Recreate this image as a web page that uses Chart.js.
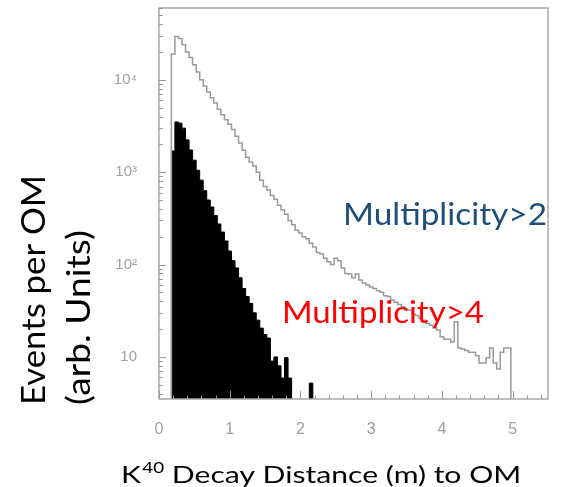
<!DOCTYPE html>
<html>
<head>
<meta charset="utf-8">
<script src="https://cdn.jsdelivr.net/npm/chart.js@4.4.1/dist/chart.umd.min.js"></script>
<style>
  html, body { margin: 0; padding: 0; background: #fff; }
  #wrap { width: 587px; height: 487px; position: relative; }
</style>
</head>
<body>
<div id="wrap"><canvas id="decayChart"></canvas></div>
<script>
// histogram binning (m)
const firstEdge = 0.175;
const binWidth = 0.05;

// events per OM, multiplicity > 2 (outline)
const mult2Counts = [
  2600, 19000, 29500, 28000, 24000, 20000, 17500, 14600, 12200, 10000,
  8600, 7400, 6400, 5600, 4800, 4200, 3700, 3300, 2900, 2450,
  2070, 1730, 1450, 1290, 1170, 1000, 820, 700, 640, 560,
  510, 440, 390, 350, 300, 270, 235, 220, 200, 190,
  170, 155, 135, 130, 117, 107, 100, 117, 110, 92,
  80, 79, 72, 79, 68, 63, 60, 57, 55, 52,
  50, 46, 45, 41, 39, 37, 35, 32, 32, 29,
  28, 26, 25, 23, 22, 20.5, 19.5, 16.5, 15.5, 15.5,
  14.5, 24, 12.5, 12.2, 11.7, 11.2, 11.2, 10.3, 8.6, 8.6,
  9.8, 12.5, 8.6, 7.4, 11.2, 12.5, 12.5
];

// events per OM, multiplicity > 4 (filled black)
const mult4Counts = [
  55, 1700, 3500, 3400, 3000, 2240, 1740, 1350, 1050, 820,
  630, 500, 420, 340, 275, 225, 180, 140, 110, 92,
  72, 55, 45, 38, 30, 25, 20.5, 17.5, 16, 9,
  10, 8, 5.9, 9.8, 5.9, 0, 0, 0, 0, 0,
  5.2
];

const xTickValues = [0, 1, 2, 3, 4, 5];
const yTickLabels = { 1: '10', 2: '10²', 3: '10³', 4: '10⁴' };

const floorValue = 1; // empty bins fall below the axis

function histPoints(counts) {
  const pts = [{ x: firstEdge, y: floorValue }];
  counts.forEach((c, i) => {
    pts.push({ x: firstEdge + i * binWidth, y: c > 0 ? c : floorValue });
  });
  pts.push({ x: firstEdge + counts.length * binWidth, y: floorValue });
  return pts;
}

// draws a string stretched to a given length
function fitText(ctx, text, x, y, size, len, color, rotate) {
  ctx.save();
  ctx.font = size + 'px Lato';
  const w = ctx.measureText(text).width;
  ctx.translate(x, y);
  if (rotate) ctx.rotate(-Math.PI / 2);
  ctx.scale(len / w, 1);
  ctx.fillStyle = color;
  ctx.textAlign = 'left';
  ctx.textBaseline = 'alphabetic';
  ctx.fillText(text, 0, 0);
  ctx.restore();
}

const framePlugin = {
  id: 'frame',
  afterDraw(chart) {
    const { ctx, chartArea: a, scales } = chart;
    const xs = scales.x, ys = scales.y;
    ctx.save();
    ctx.strokeStyle = '#a8a8a8';
    ctx.lineWidth = 1.5;
    ctx.strokeRect(a.left, a.top, a.right - a.left, a.bottom - a.top);

    // inner tick marks
    ctx.lineWidth = 1;
    ctx.strokeStyle = '#999';
    ctx.beginPath();
    for (let e = 0; e <= 4; e++) {
      for (let k = 1; k <= 9; k++) {
        const v = k * Math.pow(10, e);
        if (v < ys.min || v > ys.max) continue;
        const py = Math.round(ys.getPixelForValue(v)) + 0.5;
        ctx.moveTo(a.left, py);
        ctx.lineTo(a.left + (k === 1 ? 7 : 4), py);
      }
    }
    for (let i = 0; i <= 27; i++) {
      const v = i * 0.2;
      const px = Math.round(xs.getPixelForValue(v)) + 0.5;
      ctx.moveTo(px, a.bottom);
      ctx.lineTo(px, a.bottom - (i % 5 === 0 ? 8 : 3.5));
    }
    ctx.stroke();
    ctx.restore();

    // axis titles
    ctx.save();
    const s = 24, sup = 15;
    ctx.font = s + 'px Lato';
    const wK = ctx.measureText('K').width;
    const wRest = ctx.measureText(' Decay Distance (m) to OM').width;
    ctx.font = sup + 'px Lato';
    const wSup = ctx.measureText('40').width;
    const sx = 399 / (wK + wSup + wRest);
    ctx.translate(121, 483);
    ctx.scale(sx, 1);
    ctx.fillStyle = '#000';
    ctx.textBaseline = 'alphabetic';
    ctx.font = s + 'px Lato';
    ctx.fillText('K', 0, 0);
    ctx.font = sup + 'px Lato';
    ctx.fillText('40', wK + 1, -10);
    ctx.font = s + 'px Lato';
    ctx.fillText(' Decay Distance (m) to OM', wK + wSup + 1, 0);
    ctx.restore();

    fitText(ctx, 'Events per OM', 45, 405, 32, 230, '#000', true);
    fitText(ctx, '(arb. Units)', 90, 405, 32, 175, '#000', true);

    // series labels
    fitText(ctx, 'Multiplicity>2', 343, 225, 31, 204, '#1F4E79', false);
    fitText(ctx, 'Multiplicity>4', 282, 323, 30, 202, '#FF0000', false);
  }
};

const ctx = document.getElementById('decayChart').getContext('2d');
const decayChart = new Chart(ctx, {
  type: 'line',
  data: {
    datasets: [
      {
        label: 'Multiplicity>2',
        data: histPoints(mult2Counts),
        stepped: 'after',
        borderColor: '#9a9a9a',
        borderWidth: 1.5,
        pointRadius: 0,
        fill: false
      },
      {
        label: 'Multiplicity>4',
        data: histPoints(mult4Counts),
        stepped: 'after',
        borderColor: '#000',
        borderWidth: 1,
        backgroundColor: '#000',
        pointRadius: 0,
        fill: 'start'
      }
    ]
  },
  options: {
    responsive: true,
    maintainAspectRatio: false,
    animation: false,
    layout: { autoPadding: false, padding: { left: 0, right: 39, top: 8, bottom: 0 } },
    plugins: {
      legend: { display: false },
      tooltip: { enabled: false }
    },
    scales: {
      x: {
        type: 'linear',
        min: 0,
        max: 5.5,
        border: { display: false },
        grid: { display: false, drawTicks: false },
        afterBuildTicks: scale => {
          scale.ticks = xTickValues.map(v => ({ value: v }));
        },
        ticks: {
          maxRotation: 0,
          padding: 21,
          color: '#a0a0a0',
          font: { family: 'Liberation Sans', size: 16 },
          callback: v => String(v)
        },
        afterFit: scale => {
          scale.height = 88;
          scale.paddingLeft = 0;
          scale.paddingRight = 0;
        }
      },
      y: {
        type: 'logarithmic',
        min: 3.5,
        max: 60000,
        border: { display: false },
        grid: { display: false, drawTicks: false },
        ticks: {
          autoSkip: false,
          padding: 22,
          color: '#a0a0a0',
          font: { family: 'Liberation Sans', size: 15 },
          callback: v => {
            const e = Math.log10(v);
            return Math.abs(e - Math.round(e)) < 1e-6 ? (yTickLabels[Math.round(e)] || '') : '';
          }
        },
        afterFit: scale => {
          scale.width = 159;
          scale.paddingTop = 0;
          scale.paddingBottom = 0;
        }
      }
    }
  },
  plugins: [framePlugin]
});
</script>
</body>
</html>
